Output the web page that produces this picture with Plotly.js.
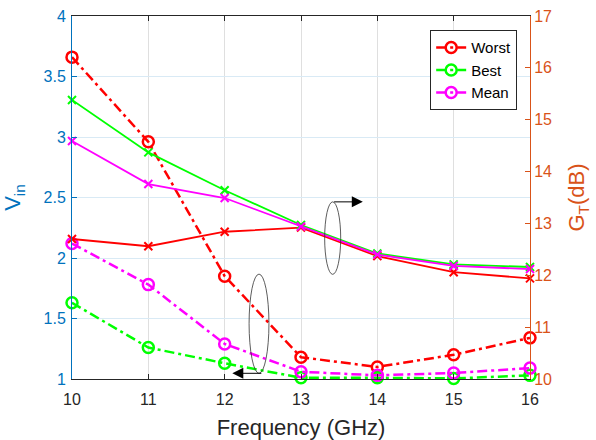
<!DOCTYPE html>
<html>
<head>
<meta charset="utf-8">
<script src="https://cdn.plot.ly/plotly-3.0.1.min.js"></script>
<style>
  html, body { margin: 0; padding: 0; background: #ffffff; }
  #chart { width: 596px; height: 440px; }
</style>
</head>
<body>
<div id="chart"></div>
<script>
// Frequency sweep (GHz)
const freqGHz = [10, 11, 12, 13, 14, 15, 16];

// Input VSWR (left axis)
const vinWorst = [3.66, 2.96, 1.85, 1.18, 1.10, 1.20, 1.34];
const vinBest  = [1.63, 1.26, 1.13, 1.01, 1.01, 1.005, 1.03];
const vinMean  = [2.12, 1.78, 1.29, 1.06, 1.03, 1.05, 1.09];

// Transducer gain in dB (right axis)
const gainWorst = [12.70, 12.56, 12.84, 12.92, 12.37, 12.06, 11.94];
const gainBest  = [15.38, 14.37, 13.64, 12.97, 12.42, 12.21, 12.16];
const gainMean  = [14.59, 13.76, 13.49, 12.94, 12.40, 12.18, 12.12];

const caseNames  = ['Worst', 'Best', 'Mean'];
const caseColors = ['#ff0000', '#00ff00', '#ff00ff'];
const vinSeries  = [vinWorst, vinBest, vinMean];
const gainSeries = [gainWorst, gainBest, gainMean];

const FONT = 'Liberation Sans, Arial, Helvetica, sans-serif';
const DARK = '#262626';
const BLUE = '#0072bd';
const ORANGE = '#d95319';

const traces = [];

// dash-dot curves with open circles: VSWR
caseNames.forEach((name, i) => {
  traces.push({
    x: freqGHz, y: vinSeries[i], name: name, yaxis: 'y',
    type: 'scatter', mode: 'lines+markers', cliponaxis: false,
    line: { color: caseColors[i], width: 2.5, dash: '10px,4px,3px,4px' },
    marker: { symbol: 'circle-open', size: 11, color: caseColors[i],
              line: { width: 2.5, color: caseColors[i] } }
  });
});

// solid curves with x markers: gain
caseNames.forEach((name, i) => {
  traces.push({
    x: freqGHz, y: gainSeries[i], name: name + ' G_T', yaxis: 'y2',
    type: 'scatter', mode: 'lines+markers', cliponaxis: false, showlegend: false,
    line: { color: caseColors[i], width: 1.8 },
    marker: { symbol: 'x-thin', size: 8, color: caseColors[i],
              line: { width: 2, color: caseColors[i] } }
  });
});

const layout = {
  width: 596, height: 440,
  margin: { l: 72, r: 66, t: 16, b: 61, pad: 0 },
  paper_bgcolor: '#ffffff', plot_bgcolor: '#ffffff',
  font: { family: FONT, size: 16, color: DARK },
  showlegend: true,
  legend: {
    x: 0.972, y: 0.961, xanchor: 'right', yanchor: 'top',
    bgcolor: '#ffffff', bordercolor: DARK, borderwidth: 1,
    font: { family: FONT, size: 15, color: '#000000' },
    tracegroupgap: 0
  },
  xaxis: {
    range: [10, 16], tick0: 10, dtick: 1,
    showgrid: true, gridcolor: '#dfdfdf', gridwidth: 1, zeroline: false,
    showline: true, linecolor: DARK, linewidth: 1, mirror: 'ticks',
    ticks: 'inside', ticklen: 5, tickcolor: DARK, tickwidth: 1,
    ticklabelstandoff: 6,
    tickfont: { family: FONT, size: 16, color: DARK },
    title: { text: 'Frequency (GHz)', font: { family: FONT, size: 22, color: DARK }, standoff: 15 }
  },
  yaxis: {
    range: [1, 4], tick0: 1, dtick: 0.5,
    showgrid: true, gridcolor: '#d9eaf5', gridwidth: 1, zeroline: false,
    showline: true, linecolor: BLUE, linewidth: 1,
    ticks: 'inside', ticklen: 5, tickcolor: BLUE, tickwidth: 1,
    ticklabelstandoff: 2,
    tickfont: { family: FONT, size: 16, color: BLUE },
    title: { text: 'V<sub>in</sub>', font: { family: FONT, size: 22, color: BLUE }, standoff: 16 }
  },
  yaxis2: {
    overlaying: 'y', side: 'right', anchor: 'x',
    range: [10, 17], tick0: 10, dtick: 1,
    showgrid: false, zeroline: false,
    showline: true, linecolor: ORANGE, linewidth: 1,
    ticks: 'inside', ticklen: 5, tickcolor: ORANGE, tickwidth: 1,
    tickfont: { family: FONT, size: 16, color: ORANGE },
    title: { text: 'G<sub>T</sub>(dB)', font: { family: FONT, size: 22, color: ORANGE }, standoff: 17 }
  },
  // ellipses grouping each family of curves
  shapes: [
    { type: 'circle', xref: 'x', yref: 'y', x0: 13.31, x1: 13.52, y0: 1.865, y1: 2.464,
      line: { color: '#333333', width: 0.8 } },
    { type: 'circle', xref: 'x', yref: 'y', x0: 12.32, x1: 12.58, y0: 1.047, y1: 1.867,
      line: { color: '#333333', width: 0.8 } }
  ],
  // arrows pointing to the axis each family belongs to
  annotations: [
    { x: 13.81, y: 2.464, ax: 13.414, ay: 2.464, xref: 'x', yref: 'y', axref: 'x', ayref: 'y',
      text: '', showarrow: true, arrowhead: 2, arrowsize: 2.2, arrowwidth: 1, arrowcolor: '#000000' },
    { x: 12.10, y: 1.047, ax: 12.50, ay: 1.047, xref: 'x', yref: 'y', axref: 'x', ayref: 'y',
      text: '', showarrow: true, arrowhead: 2, arrowsize: 2.2, arrowwidth: 1, arrowcolor: '#000000' }
  ]
};

Plotly.newPlot('chart', traces, layout, { displayModeBar: false, staticPlot: true });
</script>
</body>
</html>
